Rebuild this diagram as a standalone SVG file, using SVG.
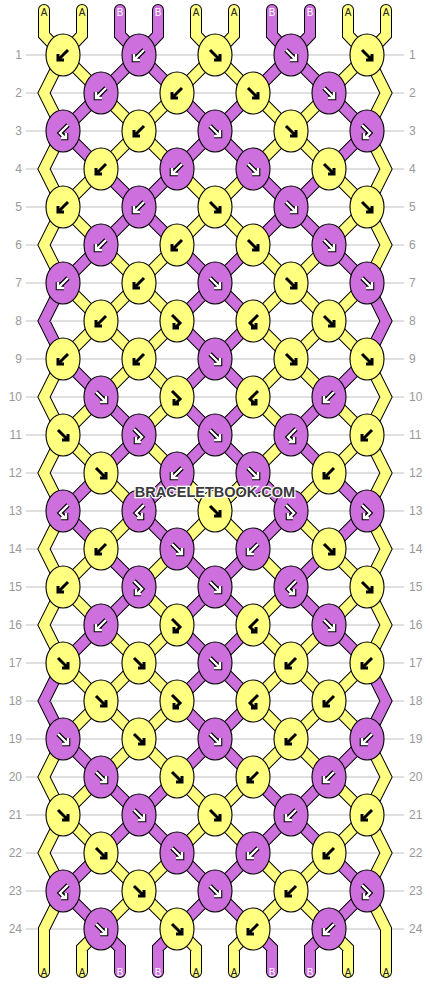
<svg xmlns="http://www.w3.org/2000/svg" xmlns:xlink="http://www.w3.org/1999/xlink" width="430" height="984" viewBox="0 0 430 984">
<style>
.gl{fill:none;stroke:#c0c0c0;stroke-width:1}
.num{font-family:"Liberation Sans",Arial,sans-serif;font-size:12px;fill:#999}
.lab{font-family:"Liberation Sans",Arial,sans-serif;font-size:10px;text-anchor:middle}
.la{fill:#222}.lb{fill:#fff}
.so{fill:none;stroke:#000;stroke-width:12;stroke-linecap:round;stroke-linejoin:miter}
.sy{fill:none;stroke:#ffff80;stroke-width:10;stroke-linecap:round;stroke-linejoin:miter}
.sp{fill:none;stroke:#cd70de;stroke-width:10;stroke-linecap:round;stroke-linejoin:miter}
.ky{fill:#ffff80;stroke:#000;stroke-width:1.1}
.kp{fill:#cd70de;stroke:#000;stroke-width:1.1}
.ab{fill:none;stroke:#000;stroke-width:3}
.ao{fill:none;stroke:#000;stroke-width:4.6}
.aw{fill:none;stroke:#fff;stroke-width:2.4}
.wm{font-family:"Liberation Sans",Arial,sans-serif;font-size:14.5px;font-weight:bold;fill:#3a3a3a;stroke:#fff;stroke-width:2.5;paint-order:stroke;text-anchor:middle}
</style>
<defs>
<path id="pf" d="M-5 -5L4 4M5 -1V5H-1"/>
<path id="pb" d="M5 -5L-4 4M-5 -1V5H1"/>
<path id="pfb" d="M-5 -6L3 2L-2 7M-3 2V7H2"/>
<path id="pbf" d="M5 -6L-3 2L2 7M3 2V7H-2"/>
<g id="Yf"><ellipse class="ky" rx="17" ry="21"/><use href="#pf" class="ab"/></g>
<g id="Yb"><ellipse class="ky" rx="17" ry="21"/><use href="#pb" class="ab"/></g>
<g id="Yfb"><ellipse class="ky" rx="17" ry="21"/><use href="#pfb" class="ab"/></g>
<g id="Ybf"><ellipse class="ky" rx="17" ry="21"/><use href="#pbf" class="ab"/></g>
<g id="Pf"><ellipse class="kp" rx="17" ry="21"/><use href="#pf" class="ao"/><use href="#pf" class="aw"/></g>
<g id="Pb"><ellipse class="kp" rx="17" ry="21"/><use href="#pb" class="ao"/><use href="#pb" class="aw"/></g>
<g id="Pfb"><ellipse class="kp" rx="17" ry="21"/><use href="#pfb" class="ao"/><use href="#pfb" class="aw"/></g>
<g id="Pbf"><ellipse class="kp" rx="17" ry="21"/><use href="#pbf" class="ao"/><use href="#pbf" class="aw"/></g>
<path id="cy" d="M44 10V35L63 55M82 10V35L63 55M196 10V35L215 55M234 10V35L215 55M348 10V35L367 55M386 10V35L367 55
M63 55L44 93L63 131M63 131L44 169L63 207M63 207L44 245L63 283M63 359L44 397L63 435M63 435L44 473L63 511M63 511L44 549L63 587M63 587L44 625L63 663M63 739L44 777L63 815M63 815L44 853L63 891M63 891L44 929V972
M367 55L386 93L367 131M367 131L386 169L367 207M367 207L386 245L367 283M367 359L386 397L367 435M367 435L386 473L367 511M367 511L386 549L367 587M367 587L386 625L367 663M367 739L386 777L367 815M367 815L386 853L367 891M367 891L386 929V972
M101 929L82 948V972M177 929L196 948V972M253 929L234 948V972M329 929L348 948V972
M63 55L101 93M215 55L177 93M215 55L253 93M367 55L329 93
M101 93L139 131M177 93L139 131M253 93L291 131M329 93L291 131
M139 131L101 169M139 131L177 169M291 131L253 169M291 131L329 169
M101 169L63 207M177 169L215 207M253 169L215 207M329 169L367 207
M63 207L101 245M215 207L177 245M215 207L253 245M367 207L329 245
M101 245L139 283M177 245L139 283M253 245L291 283M329 245L291 283
M63 283L101 321M139 283L101 321M139 283L177 321M291 283L253 321M291 283L329 321M367 283L329 321
M101 321L63 359M101 321L139 359M177 321L139 359M253 321L291 359M329 321L291 359M329 321L367 359
M139 359L101 397M139 359L177 397M291 359L253 397M291 359L329 397
M101 397L63 435M177 397L139 435M253 397L291 435M329 397L367 435
M63 435L101 473M139 435L177 473M291 435L253 473M367 435L329 473
M101 473L139 511M177 473L215 511M253 473L215 511M329 473L291 511
M139 511L101 549M215 511L177 549M215 511L253 549M291 511L329 549
M101 549L63 587M177 549L139 587M253 549L291 587M329 549L367 587
M63 587L101 625M139 587L177 625M291 587L253 625M367 587L329 625
M101 625L139 663M177 625L139 663M253 625L291 663M329 625L291 663
M63 663L101 701M139 663L101 701M139 663L177 701M291 663L253 701M291 663L329 701M367 663L329 701
M101 701L63 739M101 701L139 739M177 701L139 739M253 701L291 739M329 701L291 739M329 701L367 739
M139 739L101 777M139 739L177 777M291 739L253 777M291 739L329 777
M101 777L63 815M177 777L215 815M253 777L215 815M329 777L367 815
M63 815L101 853M215 815L177 853M215 815L253 853M367 815L329 853
M101 853L139 891M177 853L139 891M253 853L291 891M329 853L291 891
M139 891L101 929M139 891L177 929M291 891L253 929M291 891L329 929"/>
<path id="cp" d="M120 10V35L139 55M158 10V35L139 55M272 10V35L291 55M310 10V35L291 55
M63 283L44 321L63 359M367 283L386 321L367 359M63 663L44 701L63 739M367 663L386 701L367 739
M101 929L120 948V972M177 929L158 948V972M253 929L272 948V972M329 929L310 948V972
M139 55L101 93M139 55L177 93M291 55L253 93M291 55L329 93
M101 93L63 131M177 93L215 131M253 93L215 131M329 93L367 131
M63 131L101 169M215 131L177 169M215 131L253 169M367 131L329 169
M101 169L139 207M177 169L139 207M253 169L291 207M329 169L291 207
M139 207L101 245M139 207L177 245M291 207L253 245M291 207L329 245
M101 245L63 283M177 245L215 283M253 245L215 283M329 245L367 283
M215 283L177 321M215 283L253 321
M177 321L215 359M253 321L215 359
M63 359L101 397M215 359L177 397M215 359L253 397M367 359L329 397
M101 397L139 435M177 397L215 435M253 397L215 435M329 397L291 435
M139 435L101 473M215 435L177 473M215 435L253 473M291 435L329 473
M101 473L63 511M177 473L139 511M253 473L291 511M329 473L367 511
M63 511L101 549M139 511L177 549M291 511L253 549M367 511L329 549
M101 549L139 587M177 549L215 587M253 549L215 587M329 549L291 587
M139 587L101 625M215 587L177 625M215 587L253 625M291 587L329 625
M101 625L63 663M177 625L215 663M253 625L215 663M329 625L367 663
M215 663L177 701M215 663L253 701
M177 701L215 739M253 701L215 739
M63 739L101 777M215 739L177 777M215 739L253 777M367 739L329 777
M101 777L139 815M177 777L139 815M253 777L291 815M329 777L291 815
M139 815L101 853M139 815L177 853M291 815L253 853M291 815L329 853
M101 853L63 891M177 853L215 891M253 853L215 891M329 853L367 891
M63 891L101 929M215 891L177 929M215 891L253 929M367 891L329 929"/>
</defs>
<rect width="430" height="984" fill="#fff"/>
<g id="rows">
<path class="gl" d="M26 55H404M26 93H404M26 131H404M26 169H404M26 207H404M26 245H404M26 283H404M26 321H404M26 359H404M26 397H404M26 435H404M26 473H404M26 511H404M26 549H404M26 587H404M26 625H404M26 663H404M26 701H404M26 739H404M26 777H404M26 815H404M26 853H404M26 891H404M26 929H404"/>
<g class="num" text-anchor="end">
<text x="22" y="59">1</text><text x="22" y="97">2</text><text x="22" y="135">3</text><text x="22" y="173">4</text><text x="22" y="211">5</text><text x="22" y="249">6</text><text x="22" y="287">7</text><text x="22" y="325">8</text><text x="22" y="363">9</text><text x="22" y="401">10</text><text x="22" y="439">11</text><text x="22" y="477">12</text><text x="22" y="515">13</text><text x="22" y="553">14</text><text x="22" y="591">15</text><text x="22" y="629">16</text><text x="22" y="667">17</text><text x="22" y="705">18</text><text x="22" y="743">19</text><text x="22" y="781">20</text><text x="22" y="819">21</text><text x="22" y="857">22</text><text x="22" y="895">23</text><text x="22" y="933">24</text>
</g>
<g class="num">
<text x="409" y="59">1</text><text x="409" y="97">2</text><text x="409" y="135">3</text><text x="409" y="173">4</text><text x="409" y="211">5</text><text x="409" y="249">6</text><text x="409" y="287">7</text><text x="409" y="325">8</text><text x="409" y="363">9</text><text x="409" y="401">10</text><text x="409" y="439">11</text><text x="409" y="477">12</text><text x="409" y="515">13</text><text x="409" y="553">14</text><text x="409" y="591">15</text><text x="409" y="629">16</text><text x="409" y="667">17</text><text x="409" y="705">18</text><text x="409" y="743">19</text><text x="409" y="781">20</text><text x="409" y="819">21</text><text x="409" y="857">22</text><text x="409" y="895">23</text><text x="409" y="933">24</text>
</g>
</g>
<g id="connectors">
<use href="#cy" class="so"/><use href="#cp" class="so"/>
<use href="#cy" class="sy"/><use href="#cp" class="sp"/>
</g>
<g id="string-labels" class="lab">
<text class="la" x="44" y="16">A</text><text class="la" x="82" y="16">A</text><text class="lb" x="120" y="16">B</text><text class="lb" x="158" y="16">B</text><text class="la" x="196" y="16">A</text><text class="la" x="234" y="16">A</text><text class="lb" x="272" y="16">B</text><text class="lb" x="310" y="16">B</text><text class="la" x="348" y="16">A</text><text class="la" x="386" y="16">A</text>
<text class="la" x="44" y="976">A</text><text class="la" x="82" y="976">A</text><text class="lb" x="120" y="976">B</text><text class="lb" x="158" y="976">B</text><text class="la" x="196" y="976">A</text><text class="la" x="234" y="976">A</text><text class="lb" x="272" y="976">B</text><text class="lb" x="310" y="976">B</text><text class="la" x="348" y="976">A</text><text class="la" x="386" y="976">A</text>
</g>
<g id="knots">
<g id="k1-1" transform="translate(63,55)"><use href="#Yb"/></g><g id="k1-2" transform="translate(139,55)"><use href="#Pb"/></g><g id="k1-3" transform="translate(215,55)"><use href="#Yf"/></g><g id="k1-4" transform="translate(291,55)"><use href="#Pf"/></g><g id="k1-5" transform="translate(367,55)"><use href="#Yf"/></g>
<g id="k2-1" transform="translate(101,93)"><use href="#Pb"/></g><g id="k2-2" transform="translate(177,93)"><use href="#Yb"/></g><g id="k2-3" transform="translate(253,93)"><use href="#Yf"/></g><g id="k2-4" transform="translate(329,93)"><use href="#Pf"/></g>
<g id="k3-1" transform="translate(63,131)"><use href="#Pbf"/></g><g id="k3-2" transform="translate(139,131)"><use href="#Yb"/></g><g id="k3-3" transform="translate(215,131)"><use href="#Pf"/></g><g id="k3-4" transform="translate(291,131)"><use href="#Yf"/></g><g id="k3-5" transform="translate(367,131)"><use href="#Pfb"/></g>
<g id="k4-1" transform="translate(101,169)"><use href="#Yb"/></g><g id="k4-2" transform="translate(177,169)"><use href="#Pb"/></g><g id="k4-3" transform="translate(253,169)"><use href="#Pf"/></g><g id="k4-4" transform="translate(329,169)"><use href="#Yf"/></g>
<g id="k5-1" transform="translate(63,207)"><use href="#Yb"/></g><g id="k5-2" transform="translate(139,207)"><use href="#Pb"/></g><g id="k5-3" transform="translate(215,207)"><use href="#Yf"/></g><g id="k5-4" transform="translate(291,207)"><use href="#Pf"/></g><g id="k5-5" transform="translate(367,207)"><use href="#Yf"/></g>
<g id="k6-1" transform="translate(101,245)"><use href="#Pb"/></g><g id="k6-2" transform="translate(177,245)"><use href="#Yb"/></g><g id="k6-3" transform="translate(253,245)"><use href="#Yf"/></g><g id="k6-4" transform="translate(329,245)"><use href="#Pf"/></g>
<g id="k7-1" transform="translate(63,283)"><use href="#Pb"/></g><g id="k7-2" transform="translate(139,283)"><use href="#Yb"/></g><g id="k7-3" transform="translate(215,283)"><use href="#Pf"/></g><g id="k7-4" transform="translate(291,283)"><use href="#Yf"/></g><g id="k7-5" transform="translate(367,283)"><use href="#Pf"/></g>
<g id="k8-1" transform="translate(101,321)"><use href="#Yb"/></g><g id="k8-2" transform="translate(177,321)"><use href="#Yfb"/></g><g id="k8-3" transform="translate(253,321)"><use href="#Ybf"/></g><g id="k8-4" transform="translate(329,321)"><use href="#Yf"/></g>
<g id="k9-1" transform="translate(63,359)"><use href="#Yb"/></g><g id="k9-2" transform="translate(139,359)"><use href="#Yb"/></g><g id="k9-3" transform="translate(215,359)"><use href="#Pf"/></g><g id="k9-4" transform="translate(291,359)"><use href="#Yf"/></g><g id="k9-5" transform="translate(367,359)"><use href="#Yf"/></g>
<g id="k10-1" transform="translate(101,397)"><use href="#Pf"/></g><g id="k10-2" transform="translate(177,397)"><use href="#Yfb"/></g><g id="k10-3" transform="translate(253,397)"><use href="#Ybf"/></g><g id="k10-4" transform="translate(329,397)"><use href="#Pb"/></g>
<g id="k11-1" transform="translate(63,435)"><use href="#Yf"/></g><g id="k11-2" transform="translate(139,435)"><use href="#Pfb"/></g><g id="k11-3" transform="translate(215,435)"><use href="#Pf"/></g><g id="k11-4" transform="translate(291,435)"><use href="#Pbf"/></g><g id="k11-5" transform="translate(367,435)"><use href="#Yb"/></g>
<g id="k12-1" transform="translate(101,473)"><use href="#Yf"/></g><g id="k12-2" transform="translate(177,473)"><use href="#Pb"/></g><g id="k12-3" transform="translate(253,473)"><use href="#Pf"/></g><g id="k12-4" transform="translate(329,473)"><use href="#Yb"/></g>
<g id="k13-1" transform="translate(63,511)"><use href="#Pbf"/></g><g id="k13-2" transform="translate(139,511)"><use href="#Pbf"/></g><g id="k13-3" transform="translate(215,511)"><use href="#Yf"/></g><g id="k13-4" transform="translate(291,511)"><use href="#Pfb"/></g><g id="k13-5" transform="translate(367,511)"><use href="#Pfb"/></g>
<g id="k14-1" transform="translate(101,549)"><use href="#Yb"/></g><g id="k14-2" transform="translate(177,549)"><use href="#Pf"/></g><g id="k14-3" transform="translate(253,549)"><use href="#Pb"/></g><g id="k14-4" transform="translate(329,549)"><use href="#Yf"/></g>
<g id="k15-1" transform="translate(63,587)"><use href="#Yb"/></g><g id="k15-2" transform="translate(139,587)"><use href="#Pfb"/></g><g id="k15-3" transform="translate(215,587)"><use href="#Pf"/></g><g id="k15-4" transform="translate(291,587)"><use href="#Pbf"/></g><g id="k15-5" transform="translate(367,587)"><use href="#Yf"/></g>
<g id="k16-1" transform="translate(101,625)"><use href="#Pb"/></g><g id="k16-2" transform="translate(177,625)"><use href="#Yfb"/></g><g id="k16-3" transform="translate(253,625)"><use href="#Ybf"/></g><g id="k16-4" transform="translate(329,625)"><use href="#Pf"/></g>
<g id="k17-1" transform="translate(63,663)"><use href="#Yf"/></g><g id="k17-2" transform="translate(139,663)"><use href="#Yf"/></g><g id="k17-3" transform="translate(215,663)"><use href="#Pf"/></g><g id="k17-4" transform="translate(291,663)"><use href="#Yb"/></g><g id="k17-5" transform="translate(367,663)"><use href="#Yb"/></g>
<g id="k18-1" transform="translate(101,701)"><use href="#Yf"/></g><g id="k18-2" transform="translate(177,701)"><use href="#Yfb"/></g><g id="k18-3" transform="translate(253,701)"><use href="#Ybf"/></g><g id="k18-4" transform="translate(329,701)"><use href="#Yb"/></g>
<g id="k19-1" transform="translate(63,739)"><use href="#Pf"/></g><g id="k19-2" transform="translate(139,739)"><use href="#Yf"/></g><g id="k19-3" transform="translate(215,739)"><use href="#Pf"/></g><g id="k19-4" transform="translate(291,739)"><use href="#Yb"/></g><g id="k19-5" transform="translate(367,739)"><use href="#Pb"/></g>
<g id="k20-1" transform="translate(101,777)"><use href="#Pf"/></g><g id="k20-2" transform="translate(177,777)"><use href="#Yf"/></g><g id="k20-3" transform="translate(253,777)"><use href="#Yb"/></g><g id="k20-4" transform="translate(329,777)"><use href="#Pb"/></g>
<g id="k21-1" transform="translate(63,815)"><use href="#Yf"/></g><g id="k21-2" transform="translate(139,815)"><use href="#Pf"/></g><g id="k21-3" transform="translate(215,815)"><use href="#Yf"/></g><g id="k21-4" transform="translate(291,815)"><use href="#Pb"/></g><g id="k21-5" transform="translate(367,815)"><use href="#Yb"/></g>
<g id="k22-1" transform="translate(101,853)"><use href="#Yf"/></g><g id="k22-2" transform="translate(177,853)"><use href="#Pf"/></g><g id="k22-3" transform="translate(253,853)"><use href="#Pb"/></g><g id="k22-4" transform="translate(329,853)"><use href="#Yb"/></g>
<g id="k23-1" transform="translate(63,891)"><use href="#Pbf"/></g><g id="k23-2" transform="translate(139,891)"><use href="#Yf"/></g><g id="k23-3" transform="translate(215,891)"><use href="#Pf"/></g><g id="k23-4" transform="translate(291,891)"><use href="#Yb"/></g><g id="k23-5" transform="translate(367,891)"><use href="#Pfb"/></g>
<g id="k24-1" transform="translate(101,929)"><use href="#Pf"/></g><g id="k24-2" transform="translate(177,929)"><use href="#Yf"/></g><g id="k24-3" transform="translate(253,929)"><use href="#Yb"/></g><g id="k24-4" transform="translate(329,929)"><use href="#Pb"/></g>
</g>
<text id="watermark" class="wm" x="215" y="497">BRACELETBOOK.COM</text>
</svg>
